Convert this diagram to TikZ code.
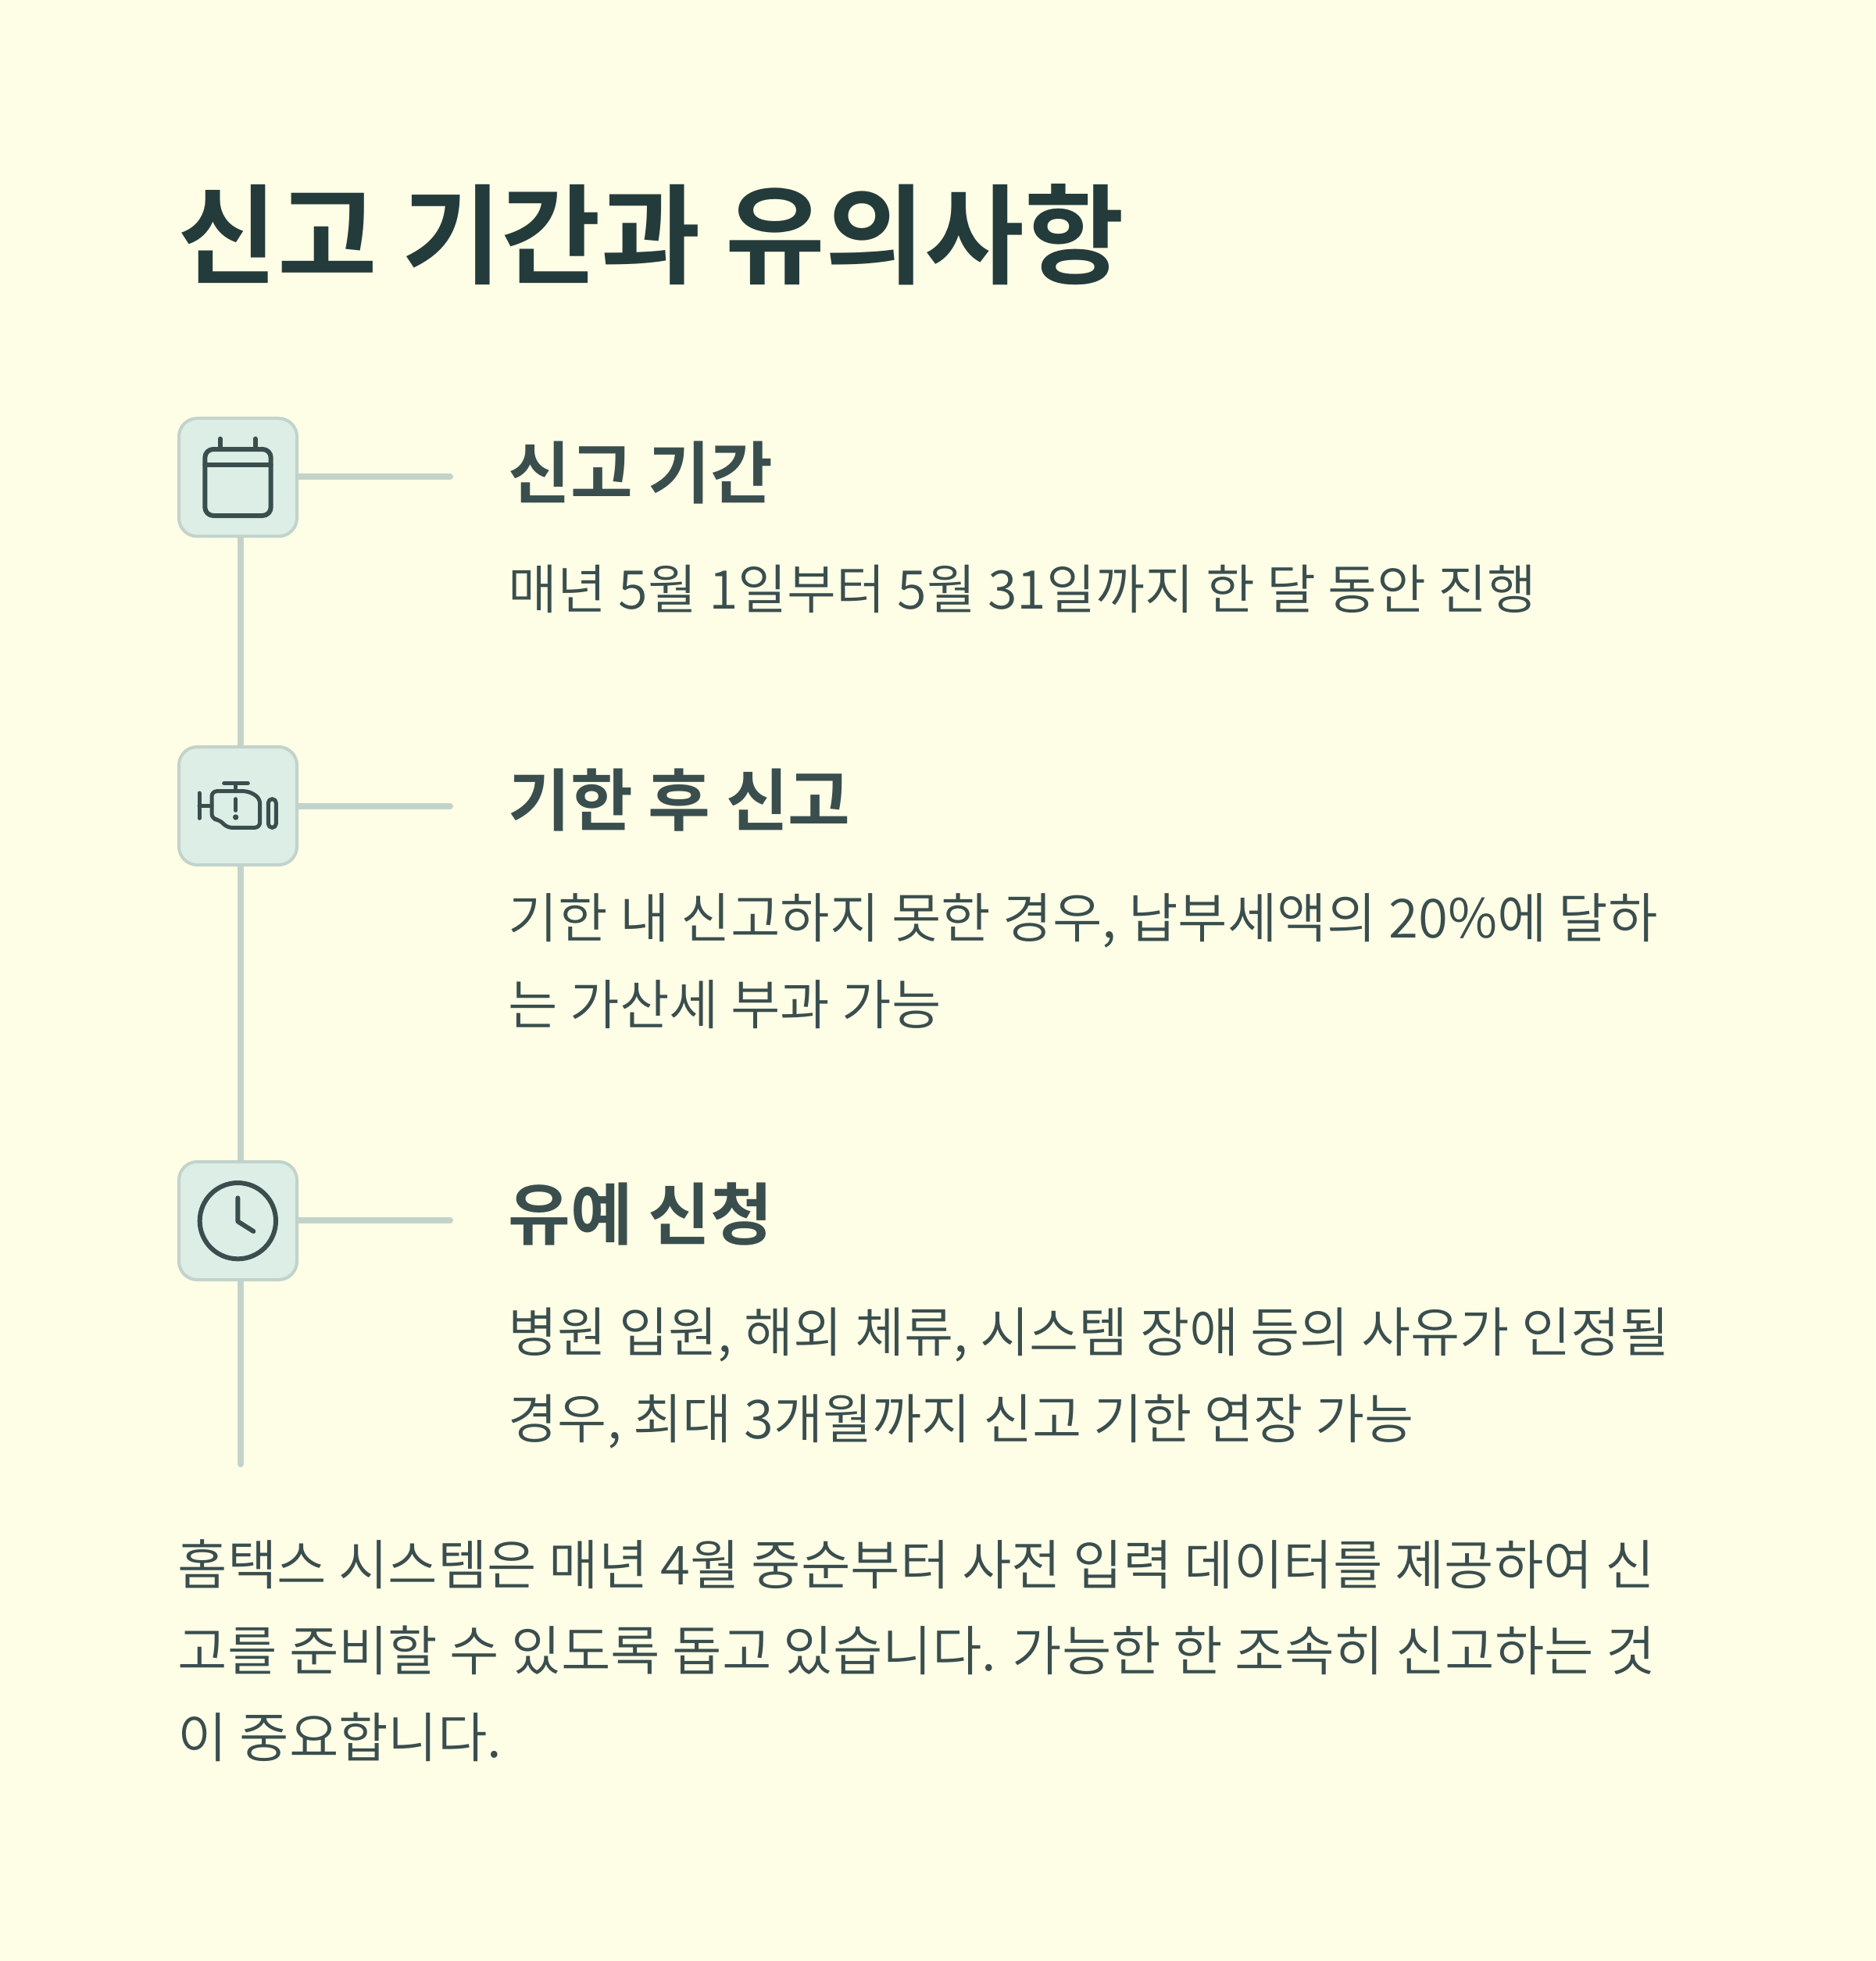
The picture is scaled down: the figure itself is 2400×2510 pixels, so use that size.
\documentclass[tikz,border=0pt]{standalone}
\usepackage{fontspec}
\usetikzlibrary{backgrounds}
\newfontfamily\krbody{Noto Sans CJK KR DemiLight}
\newfontfamily\krbold{Noto Sans CJK KR Bold}
\definecolor{pagebg}{HTML}{FEFEE6}
\definecolor{boxfill}{HTML}{DDEEE6}
\definecolor{rulecol}{HTML}{C2D3CB}
\definecolor{inkcol}{HTML}{3A4E4E}
\definecolor{titlecol}{HTML}{243B3B}
\tikzset{
  iconbox/.style={draw=rulecol,fill=boxfill,line width=1.2pt,rounded corners=7pt,minimum width=45.3pt,minimum height=45.3pt,inner sep=0pt},
  rule/.style={draw=rulecol,line width=2.4pt,line cap=round},
  glyph/.style={draw=inkcol,line cap=round,line join=round},
  titletext/.style={anchor=base west,inner sep=0pt,text=titlecol,font=\krbold\fontsize{41.6pt}{48pt}\selectfont},
  headtext/.style={anchor=base west,inner sep=0pt,text=inkcol,font=\krbold\fontsize{26pt}{32pt}\selectfont},
  bodytext/.style={anchor=base west,inner sep=0pt,align=left,text=inkcol,font=\krbody\fontsize{#1}{33.1pt}\selectfont},
  bodytext/.default={20.7pt},
}
\begin{document}
\begin{tikzpicture}[x=0.3pt,y=-0.3pt]
\useasboundingbox (0,0) rectangle (2400,2510);
\coordinate (spine) at (308,0);
\coordinate (stub1) at (576,610);
\coordinate (stub2) at (576,1032);
\coordinate (stub3) at (576,1562);
\coordinate (spineend) at (308,1874);
\node[iconbox] (box1) at (304.5,611) {};
\node[iconbox] (box2) at (304.5,1031.5) {};
\node[iconbox] (box3) at (304.5,1562.5) {};
\begin{scope}[on background layer]
\fill[pagebg] (0,0) rectangle (2400,2510);
\draw[rule] (box1.south -| spine) -- (box2.north -| spine);
\draw[rule] (box2.south -| spine) -- (box3.north -| spine);
\draw[rule] (box3.south -| spine) -- (spineend);
\draw[rule] (box1.east |- stub1) -- (stub1);
\draw[rule] (box2.east |- stub2) -- (stub2);
\draw[rule] (box3.east |- stub3) -- (stub3);
\end{scope}
% calendar
\begin{scope}[shift={(210,520)},x=0.1pt,y=-0.1pt,glyph,line width=1.8pt]
\draw[rounded corners=3.2pt] (157,165) rectangle (410,420);
\draw (157,224) -- (410,224);
\draw (215,125) -- (215,165);
\draw (350,125) -- (350,165);
\end{scope}
% engine
\begin{scope}[shift={(210,940)},x=0.1pt,y=-0.1pt,glyph,line width=1.5pt]
\draw (135,225) -- (135,322);
\draw (135,275) -- (183,275);
\draw (230,188) -- (322,188);
\draw (275,188) -- (275,218);
\draw[rounded corners=2pt] (183,218) -- (325,218) -- (368,245) -- (368,358) -- (240,358) -- (215,328) -- (183,325) -- cycle;
\draw (275,248) -- (275,292);
\fill[inkcol,draw=none] (275,318) circle (1.1pt);
\draw[rounded corners=1.5pt] (400,248) rectangle (430,358);
\end{scope}
% clock
\begin{scope}[shift={(210,1470)},x=0.1pt,y=-0.1pt,glyph,line width=1.8pt]
\draw (283,278) circle (14.6pt);
\draw (283,190) -- (283,280) -- (343,318);
\end{scope}
\node[titletext] (title) at (227,353) {신고 기간과 유의사항};
\node[headtext] (h1) at (650,638) {신고 기간};
\node[bodytext=20.5pt] (b1) at (650,779) {매년 5월 1일부터 5월 31일까지 한 달 동안 진행};
\node[headtext] (h2) at (650,1056) {기한 후 신고};
\node[bodytext] (b2) at (650,1311) {기한 내 신고하지 못한 경우, 납부세액의 20\%에 달하\\는 가산세 부과 가능};
\node[headtext] (h3) at (650,1586) {유예 신청};
\node[bodytext=20.6pt] (b3) at (650,1841) {병원 입원, 해외 체류, 시스템 장애 등의 사유가 인정될\\경우, 최대 3개월까지 신고 기한 연장 가능};
\node[bodytext] (foot) at (227,2249) {홈택스 시스템은 매년 4월 중순부터 사전 입력 데이터를 제공하여 신\\고를 준비할 수 있도록 돕고 있습니다. 가능한 한 조속히 신고하는 것\\이 중요합니다.};
\end{tikzpicture}
\end{document}
